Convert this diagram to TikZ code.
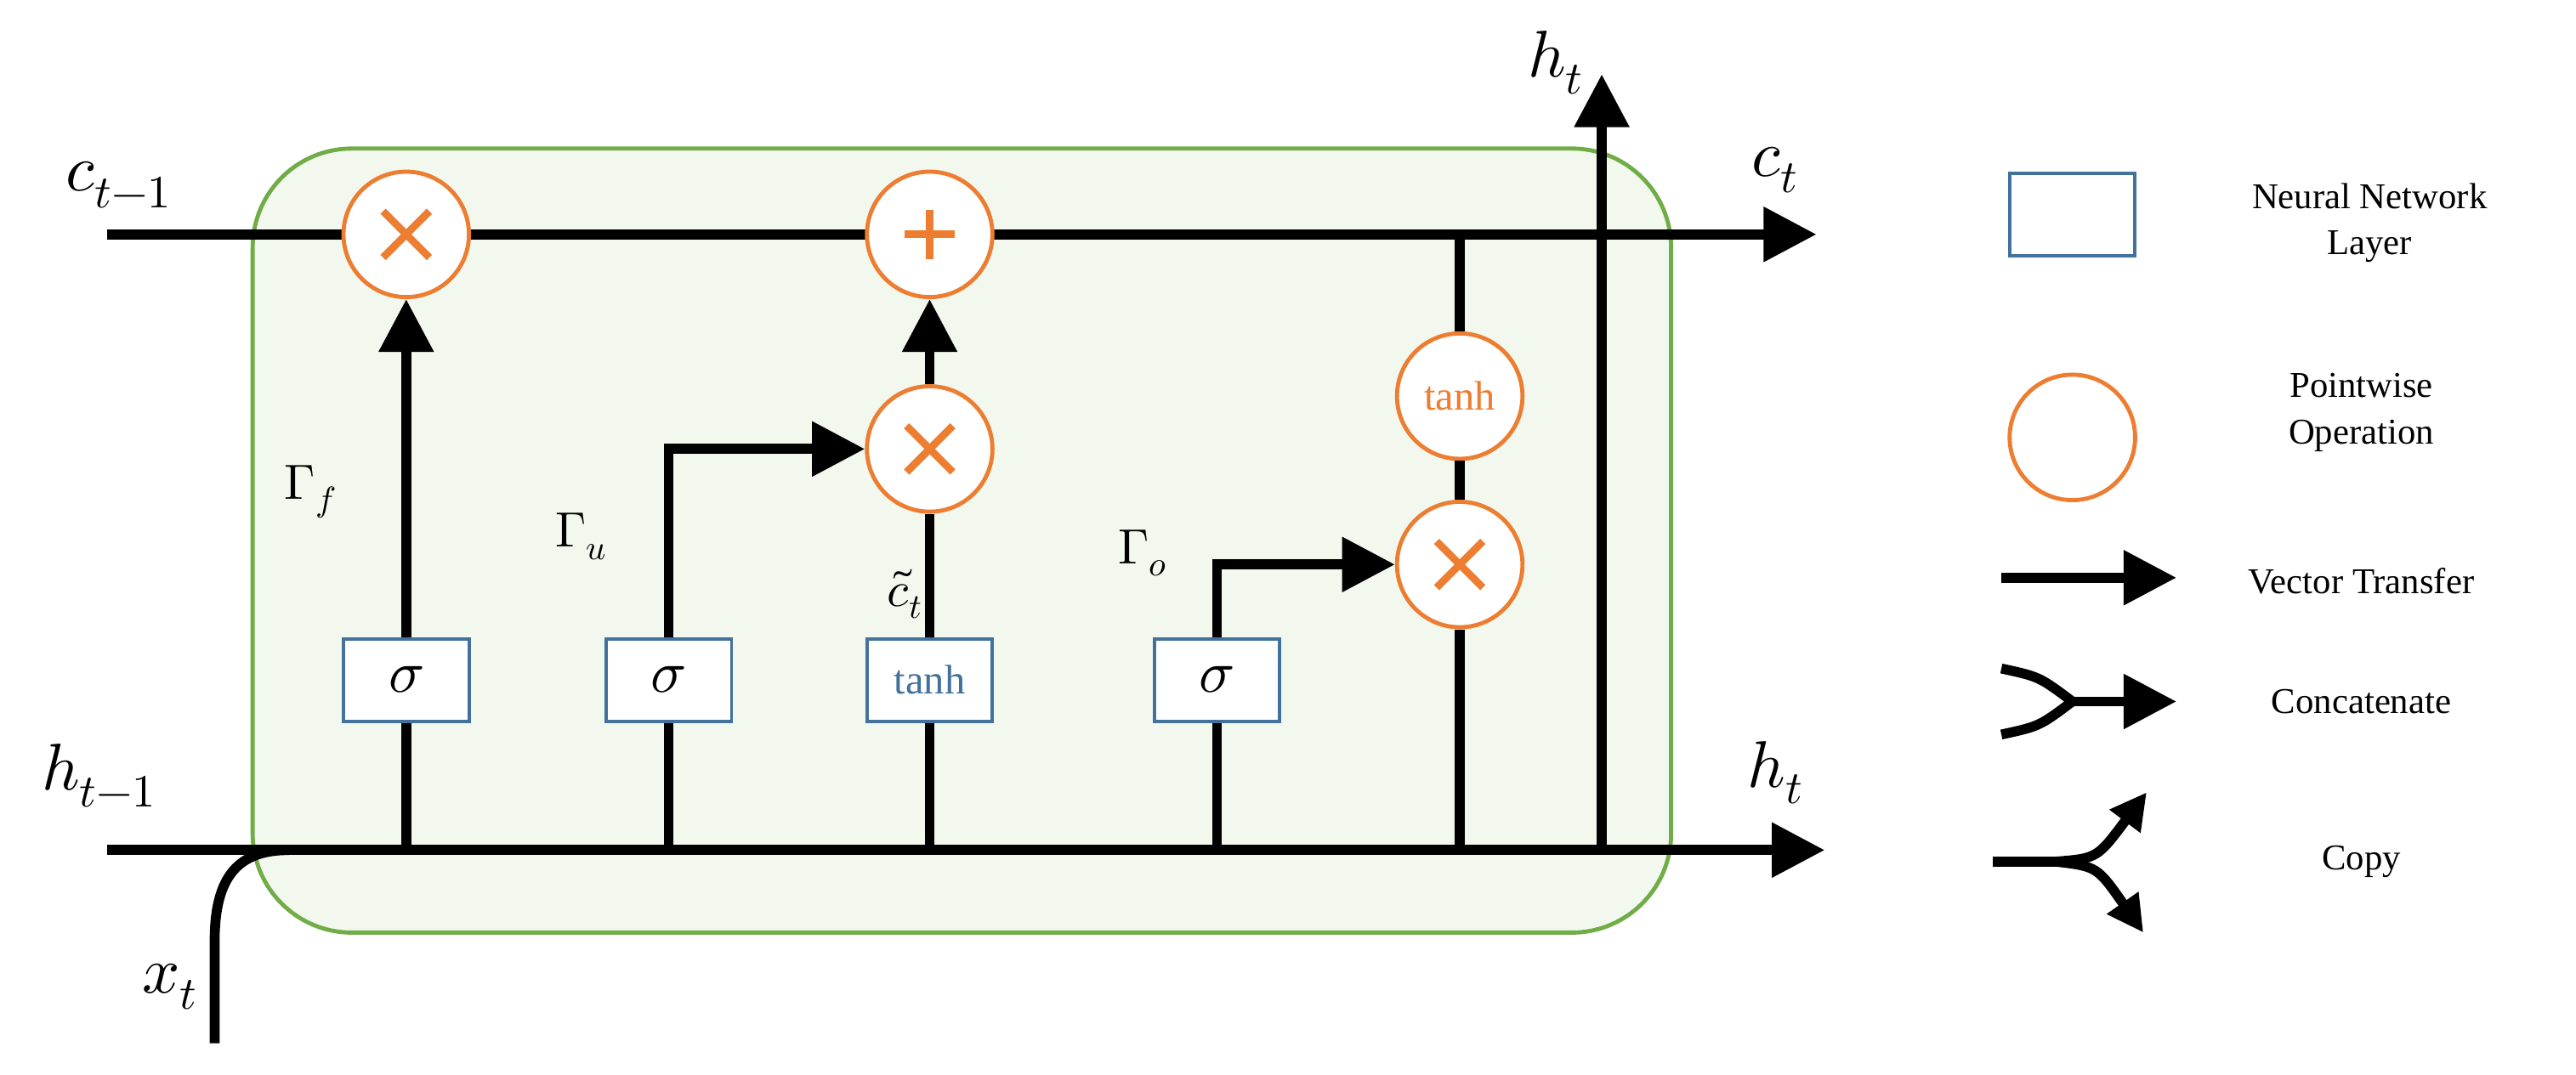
\documentclass[tikz,border=0pt]{standalone}
\usepackage{fontspec}
\usepackage{unicode-math}
\setmainfont{Liberation Serif}
\setmathfont{Latin Modern Math}
\usetikzlibrary{arrows.meta}
\definecolor{og}{HTML}{ED7D31}
\definecolor{bl}{HTML}{41719C}
\definecolor{gr}{HTML}{70AD47}
\definecolor{gf}{HTML}{F2F8EE}
\begin{document}
\begin{tikzpicture}[x=1pt,y=-1pt,
  wire/.style={line width=6pt,black},
  arr/.style={wire,-{Triangle[length=32pt,width=32pt]}},
  op/.style={circle,draw=og,line width=2.5pt,fill=white,minimum size=76pt,inner sep=0pt},
  mul/.style={op,path picture={\draw[og,line width=4.5pt] ([shift={(-14pt,-14pt)}]path picture bounding box.center)--([shift={(14pt,14pt)}]path picture bounding box.center) ([shift={(-14pt,14pt)}]path picture bounding box.center)--([shift={(14pt,-14pt)}]path picture bounding box.center);}},
  add/.style={op,path picture={\draw[og,line width=4.5pt] ([shift={(-15pt,0)}]path picture bounding box.center)--([shift={(15pt,0)}]path picture bounding box.center) ([shift={(0,-15pt)}]path picture bounding box.center)--([shift={(0,15pt)}]path picture bounding box.center);}},
  lay/.style={draw=bl,line width=2pt,fill=white,minimum width=76pt,minimum height=50pt,inner sep=0pt},
  lbl/.style={font=\fontsize{40}{44}\selectfont},
  glbl/.style={font=\fontsize{30}{34}\selectfont},
  sg/.style={font=\fontsize{36}{36}\selectfont},
  leg/.style={font=\fontsize{22}{28}\selectfont,align=center}]
\useasboundingbox (0,0) rectangle (1560,651);
\node[draw=gr,line width=2.5pt,fill=gf,rounded corners=60pt,minimum width=859pt,minimum height=475pt] (cell) at (582.5,327.5) {};
\coordinate (cin) at (65,142); \coordinate (cout) at (1100,142);
\coordinate (hin) at (65,515); \coordinate (hout) at (1105,515);
\draw[arr] (cin) -- (cout);
\draw[arr] (hin) -- (hout);
\coordinate (xin) at (130,632); \coordinate (xj) at (175,515);
\draw[wire] (xin) -- (130,570) .. controls (130,530) and (145,515) .. (xj);
\node[mul] (f) at (246,142) {};
\node[add] (p) at (563,142) {};
\node[mul] (m2) at (563,272) {};
\node[op,font=\fontsize{25}{28}\selectfont,text=og] (th) at (884,240) {tanh};
\node[mul] (m3) at (884,342) {};
\node[lay,sg] (s1) at (246,412) {$\sigma$};
\node[lay,sg] (s2) at (405,412) {$\sigma$};
\node[lay,font=\fontsize{25}{28}\selectfont,text=bl] (t1) at (563,412) {tanh};
\node[lay,sg] (s3) at (737,412) {$\sigma$};
\foreach \n in {s1,s2,t1,s3} \draw[wire] (\n.south) -- (\n.south |- hin);
\draw[arr] (s1.north) -- (f.south);
\draw[arr] (s2.north) |- (m2.west);
\draw[wire] (t1.north) -- (m2.south);
\draw[arr] (m2.north) -- (p.south);
\draw[arr] (s3.north) |- (m3.west);
\draw[wire] (th.north) -- (th.north |- cin);
\draw[wire] (th.south) -- (m3.north);
\draw[wire] (m3.south) -- (m3.south |- hin);
\coordinate (hup) at (970,45);
\draw[arr] (970,517) -- (hup);
\node[lbl] (lc) at (72,112) {$c_{t-1}$};
\node[lbl] (lh) at (60,470) {$h_{t-1}$};
\node[lbl] (lx) at (103,598) {$x_t$};
\node[lbl] (lct) at (1075,103) {$c_t$};
\node[lbl] (lht) at (1075,468) {$h_t$};
\node[lbl] (lht2) at (942,38) {$h_t$};
\node[glbl] (gf) at (188,298) {$\Gamma_f$};
\node[glbl] (gu) at (352,325) {$\Gamma_u$};
\node[glbl] (ct) at (548,360) {$\tilde c_t$};
\node[glbl] (go) at (692,335) {$\Gamma_o$};
\node[lay,minimum height=50pt] (lg1) at (1255,130) {};
\node[leg] (tg1) at (1435,135) {Neural Network\\Layer};
\node[op] (lg2) at (1255,265) {};
\node[leg] (tg2) at (1430,250) {Pointwise\\Operation};
\coordinate (va) at (1212,350); \coordinate (vb) at (1318,350);
\draw[arr] (va) -- (vb);
\node[leg] (tg3) at (1430,352) {Vector Transfer};
\coordinate (ca) at (1212,405); \coordinate (cb) at (1212,445); \coordinate (cm) at (1255,425); \coordinate (cc) at (1318,425);
\draw[wire] (ca) .. controls (1235,410) .. (cm);
\draw[wire] (cb) .. controls (1235,440) .. (cm);
\draw[arr] (cm) -- (cc);
\node[leg] (tg4) at (1430,425) {Concatenate};
\coordinate (pa) at (1207,522); \coordinate (pm) at (1245,522);
\coordinate (pu) at (1300,480); \coordinate (pd) at (1298,565);
\draw[wire] (pa) -- (pm);
\draw[wire,-{Triangle[length=22pt,width=22pt]}] (pm) .. controls (1270,520) .. (pu);
\draw[wire,-{Triangle[length=22pt,width=22pt]}] (pm) .. controls (1270,525) .. (pd);
\node[leg] (tg5) at (1430,522) {Copy};
\end{tikzpicture}
\end{document}
